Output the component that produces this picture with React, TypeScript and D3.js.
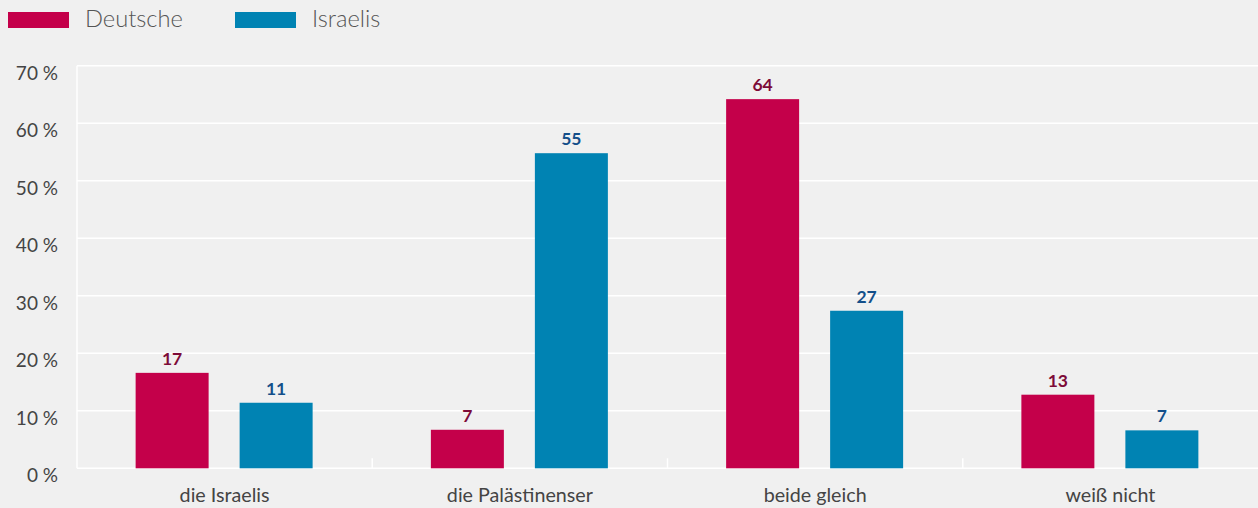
import React from "react";
import * as d3 from "d3";

const categories = ["die Israelis", "die Palästinenser", "beide gleich", "weiß nicht"];
const seriesNames = ["Deutsche", "Israelis"];
const deutsche = [16.6, 6.7, 64.2, 12.8];
const israelis = [11.4, 54.8, 27.4, 6.6];
const yTicks = [0, 10, 20, 30, 40, 50, 60, 70];

const W = 1258, H = 508;
const barColors = ["#c4004a", "#0083b3"];
const labelColors = ["#7d0b38", "#144f8a"];
const font = "Lato, 'Open Sans', sans-serif";

export default function App() {
  const left = 77, right = 1258, top = 65.8, bottom = 468.3;
  const x = d3.scaleBand<string>().domain(categories).range([left, right]).paddingInner(0).paddingOuter(0);
  const y = d3.scaleLinear().domain([0, 70]).range([bottom, top]);
  const series = [deutsche, israelis];
  const bw = 73;
  const gap = 31;
  return (
    <svg width={W} height={H} style={{ position: "absolute", left: 0, top: 0, background: "#f0f0f0" }}>
      <rect x={0} y={0} width={W} height={H} fill="#f0f0f0" />
      {yTicks.map((t) => (
        <g key={t}>
          <line x1={left} x2={right} y1={y(t)} y2={y(t)} stroke="#ffffff" strokeWidth={1.5} />
          <text x={58} y={y(t) + 14} textAnchor="end" fontFamily={font} fontSize={19} fill="#444">
            {t} %
          </text>
        </g>
      ))}
      <line x1={left} x2={left} y1={top} y2={bottom} stroke="#ffffff" strokeWidth={1.5} />
      {categories.slice(1).map((c) => (
        <line key={c} x1={x(c)!} x2={x(c)!} y1={bottom - 10} y2={bottom} stroke="#ffffff" strokeWidth={1.5} />
      ))}
      {categories.map((c, i) => {
        const cx = x(c)! + x.bandwidth() / 2;
        return (
          <g key={c}>
            {series.map((s, k) => {
              const bx = k === 0 ? cx - gap / 2 - bw - 0.5 : cx + gap / 2 - 0.5;
              return (
                <g key={k}>
                  <rect x={bx} y={y(s[i])} width={bw} height={bottom - y(s[i])} fill={barColors[k]} />
                  <text x={bx + bw / 2} y={y(s[i]) - 8} textAnchor="middle" fontFamily={font} fontWeight={700} fontSize={17.5} fill={labelColors[k]}>
                    {Math.round(s[i])}
                  </text>
                </g>
              );
            })}
            <text x={cx} y={502} textAnchor="middle" fontFamily={font} fontSize={19.7} fill="#444">
              {c}
            </text>
          </g>
        );
      })}
      {seriesNames.map((n, k) => (
        <g key={n}>
          <rect x={8 + k * 227} y={12} width={61} height={16} fill={barColors[k]} />
          <text x={85 + k * 227} y={27} fontFamily={font} fontWeight={300} fontSize={23.7} fill="#555">
            {n}
          </text>
        </g>
      ))}
    </svg>
  );
}
